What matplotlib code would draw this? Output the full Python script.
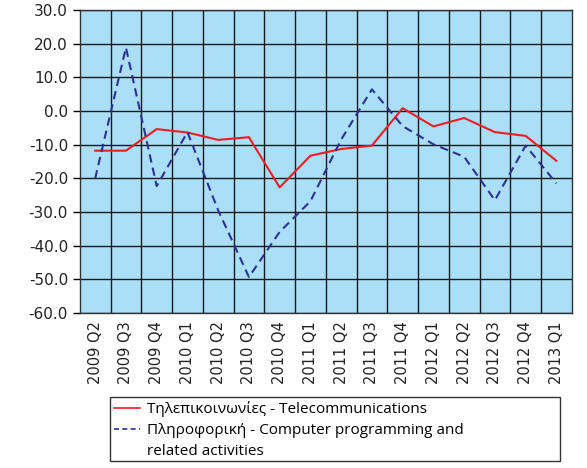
import numpy as np
import matplotlib.pyplot as plt
from matplotlib.lines import Line2D
from matplotlib.patches import Rectangle
from matplotlib.ticker import FormatStrFormatter, MultipleLocator

quarters = ["2009 Q2", "2009 Q3", "2009 Q4", "2010 Q1", "2010 Q2", "2010 Q3",
            "2010 Q4", "2011 Q1", "2011 Q2", "2011 Q3", "2011 Q4", "2012 Q1",
            "2012 Q2", "2012 Q3", "2012 Q4", "2013 Q1"]
telecom = [-11.8, -11.8, -5.4, -6.4, -8.6, -7.8, -22.7, -13.3, -11.3, -10.3,
           0.8, -4.6, -2.1, -6.3, -7.4, -14.8]
computing = [-20.0, 18.8, -22.3, -6.3, -29.5, -49.3, -35.9, -26.8, -8.5, 6.4,
             -4.5, -9.9, -13.6, -26.5, -10.3, -21.5]
telecom_label = "Τηλεπικοινωνίες - Telecommunications"
computing_label = ["Πληροφορική - Computer programming and", "related activities"]

fig = plt.figure(figsize=(5.87, 4.68), dpi=100)
ax = fig.add_axes([0.136, 0.331, 0.838, 0.648])
ax.set_facecolor("#aadff7")

x = np.arange(len(quarters))
red, = ax.plot(x, telecom, color="#ee1c25", lw=1.5)
blue, = ax.plot(x, computing, color="#2e3192", lw=1.5, ls=(0, (4, 2.5)))

ax.set_xlim(-0.5, len(quarters) - 0.5)
ax.set_ylim(-60, 30)
ax.yaxis.set_major_locator(MultipleLocator(10))
ax.yaxis.set_major_formatter(FormatStrFormatter("%.1f"))
ax.set_xticks(x)
ax.set_xticklabels(quarters, rotation=90, fontsize=10.5, color="#222222")
ax.set_xticks(np.arange(0.5, len(quarters) - 0.5), minor=True)
ax.tick_params(axis="x", which="both", length=0, pad=6)
ax.tick_params(axis="y", length=5, width=1, labelsize=11, labelcolor="#222222")

ax.grid(axis="y", which="major", color="#1a1a1a", lw=1)
ax.grid(axis="x", which="minor", color="#1a1a1a", lw=1)
ax.set_axisbelow(True)
for s in ax.spines.values():
    s.set_color("#333333")
    s.set_linewidth(1)

# legend box drawn separately so it keeps a fixed size
fig.patches.append(Rectangle((0.187, 0.016), 0.767, 0.135, transform=fig.transFigure,
                             facecolor="white", edgecolor="#333333", lw=1))

# second label wraps, so its continuation line gets an empty handle
h_red = Line2D([], [], color="#ee1c25", lw=1.2)
h_blue = Line2D([], [], color="#2e3192", lw=1.2, ls=(0, (3, 2)))
h_none = Line2D([], [], color="none")
leg = fig.legend([h_red, h_blue, h_none], [telecom_label] + computing_label,
                 loc="upper left", bbox_to_anchor=(0.194, 0.143),
                 frameon=False,
                 prop={"family": ["Open Sans", "DejaVu Sans"], "size": 11},
                 handlelength=1.7, handletextpad=0.5, borderpad=0,
                 labelspacing=0.4, borderaxespad=0)

fig.savefig("out.png", dpi=100)
